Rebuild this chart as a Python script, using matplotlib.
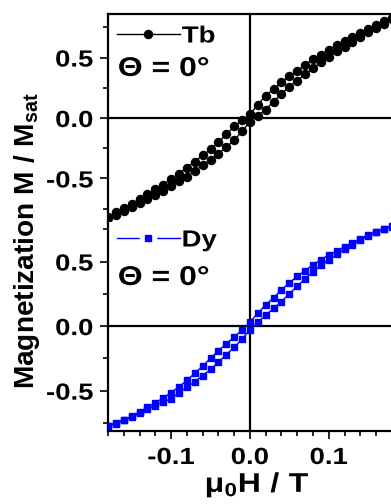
import matplotlib
matplotlib.use("Agg")
import matplotlib.pyplot as plt
from matplotlib.lines import Line2D
from matplotlib.legend_handler import HandlerTuple
from matplotlib.ticker import MultipleLocator, FixedLocator
from matplotlib.patheffects import AbstractPathEffect
from matplotlib.transforms import Affine2D

plt.rcParams['font.family'] = ['Liberation Sans', 'DejaVu Sans']
plt.rcParams['font.weight'] = 'bold'
plt.rcParams['axes.unicode_minus'] = False
plt.rcParams['mathtext.fontset'] = 'custom'
plt.rcParams['mathtext.rm'] = 'Liberation Sans'
plt.rcParams['mathtext.bf'] = 'Liberation Sans:bold'
plt.rcParams['mathtext.it'] = 'Liberation Sans:italic'

# Field values (T)
field = [-0.18, -0.17, -0.16, -0.15, -0.14, -0.13, -0.12, -0.11, -0.10, -0.09,
         -0.08, -0.07, -0.06, -0.05, -0.04, -0.03, -0.02, -0.01, 0.00, 0.01,
         0.02, 0.03, 0.04, 0.05, 0.06, 0.07, 0.08, 0.09, 0.10, 0.11,
         0.12, 0.13, 0.14, 0.15, 0.16, 0.17, 0.18]

# Tb: ascending (lower) and descending (upper) branches, M/Msat
tb_ascending = [-0.83, -0.80, -0.77, -0.74, -0.705, -0.67, -0.635, -0.60, -0.565, -0.525,
                -0.485, -0.44, -0.39, -0.345, -0.295, -0.24, -0.185, -0.11, -0.03, 0.02,
                0.07, 0.135, 0.20, 0.26, 0.31, 0.36, 0.41, 0.46, 0.505, 0.55,
                0.59, 0.63, 0.67, 0.71, 0.745, 0.78, 0.815]
tb_descending = [-0.815, -0.78, -0.745, -0.71, -0.67, -0.63, -0.59, -0.55, -0.505, -0.46,
                 -0.41, -0.36, -0.31, -0.26, -0.20, -0.135, -0.07, -0.02, 0.03, 0.11,
                 0.185, 0.24, 0.295, 0.345, 0.39, 0.44, 0.485, 0.525, 0.565, 0.60,
                 0.635, 0.67, 0.705, 0.74, 0.77, 0.80, 0.83]

# Dy: ascending (lower) and descending (upper) branches, M/Msat
dy_ascending = [-0.775, -0.755, -0.73, -0.705, -0.675, -0.645, -0.615, -0.585, -0.565, -0.515,
                -0.475, -0.43, -0.385, -0.335, -0.28, -0.22, -0.165, -0.10, -0.03, 0.03,
                0.085, 0.137, 0.19, 0.25, 0.31, 0.365, 0.42, 0.47, 0.515, 0.555,
                0.595, 0.63, 0.665, 0.70, 0.725, 0.75, 0.77]
dy_descending = [-0.77, -0.75, -0.725, -0.70, -0.665, -0.63, -0.595, -0.555, -0.515, -0.47,
                 -0.42, -0.365, -0.31, -0.25, -0.19, -0.137, -0.085, -0.03, 0.03, 0.10,
                 0.165, 0.22, 0.28, 0.335, 0.385, 0.43, 0.475, 0.515, 0.55, 0.58,
                 0.615, 0.645, 0.675, 0.705, 0.73, 0.755, 0.775]

x_major = [-0.1, 0.0, 0.1]
x_labels = ['-0.1', '0.0', '0.1']
y_major = [-0.5, 0.0, 0.5]
y_labels = ['-0.5', '0.0', '0.5']


class Stretch(AbstractPathEffect):
    """Widen text glyphs along the text direction (the reference font is wide)."""
    def __init__(self, sx, anchor='left'):
        super().__init__()
        self.sx = sx
        self.anchor = anchor

    def draw_path(self, renderer, gc, tpath, affine, rgbFace=None):
        ext = tpath.get_extents()
        if self.anchor == 'left':
            a = ext.x0
        elif self.anchor == 'right':
            a = ext.x1
        else:
            a = 0.5 * (ext.x0 + ext.x1)
        t = Affine2D().translate(-a, 0).scale(self.sx, 1.0).translate(a, 0)
        renderer.draw_path(gc, tpath, t + affine, rgbFace)


SX = 1.18
W, H = 391, 504
fig = plt.figure(figsize=(W / 100, H / 100), dpi=100)

left = 108 / W
width = (391.9 - 108) / W
ax_top = fig.add_axes([left, 1 - 222 / H, width, (222 - 14) / H])
ax_bot = fig.add_axes([left, 1 - 430.7 / H, width, (430.7 - 222) / H])

blue = '#0000ff'
tick_fs = 16.8

for ax in (ax_top, ax_bot):
    ax.set_xlim(-0.18, 0.18)
    ax.axhline(0, color='k', lw=1.6, zorder=1)
    ax.axvline(0, color='k', lw=1.6, zorder=1)
    ax.spines['right'].set_visible(False)
    for s in ax.spines.values():
        s.set_linewidth(1.6)
    ax.yaxis.set_major_locator(FixedLocator(y_major))
    ax.set_yticklabels(y_labels)
    ax.yaxis.set_minor_locator(MultipleLocator(0.25))
    ax.tick_params(axis='y', which='major', direction='out', length=6, width=1.2,
                   labelsize=tick_fs, pad=4.5)
    ax.tick_params(axis='y', which='minor', direction='out', length=3.5, width=1.2)
    for lab in ax.get_yticklabels():
        lab.set_fontweight('bold')
        lab.set_path_effects([Stretch(SX, 'right')])

# Top panel (Tb)
ax_top.set_ylim(-0.86, 0.86)
ax_top.spines['bottom'].set_visible(False)
ax_top.tick_params(axis='x', which='both', bottom=False, labelbottom=False)
ax_top.plot(field, tb_ascending, '-o', color='k', lw=1.0, ms=5.8, zorder=3)
ax_top.plot(field, tb_descending, '-o', color='k', lw=1.0, ms=5.8, zorder=3)

# Bottom panel (Dy)
ax_bot.set_ylim(-0.81, 0.806)
ax_bot.spines['top'].set_visible(False)
ax_bot.xaxis.set_major_locator(FixedLocator(x_major))
ax_bot.set_xticklabels(x_labels)
ax_bot.xaxis.set_minor_locator(MultipleLocator(0.02))
ax_bot.tick_params(axis='x', which='major', direction='out', length=6, width=1.2,
                   labelsize=tick_fs, pad=5)
ax_bot.tick_params(axis='x', which='minor', direction='out', length=3.5, width=1.2)
for lab in ax_bot.get_xticklabels():
    lab.set_fontweight('bold')
    lab.set_path_effects([Stretch(SX, 'center')])
ax_bot.plot(field, dy_ascending, '-s', color=blue, lw=1.0, ms=5.0, zorder=3)
ax_bot.plot(field, dy_descending, '-s', color=blue, lw=1.0, ms=5.0, zorder=3)

leg_fs = 16.8
# Legends
h_tb = Line2D([], [], color='k', lw=1.0, marker='o', ms=5.8)
lg1 = ax_top.legend([h_tb], ['Tb'], loc='center left',
                    bbox_to_anchor=((117 - 108) / 284, (222 - 36) / 208),
                    frameon=False, handlelength=2.7, handletextpad=0.08,
                    borderaxespad=0, borderpad=0,
                    prop={'weight': 'bold', 'size': leg_fs})
h_dy_line = Line2D([], [], color=blue, lw=1.0)
h_dy_gap = Line2D([], [], color='none', marker='s', ms=11, mfc='white', mec='white')
h_dy_mark = Line2D([], [], color='none', marker='s', ms=5.0, mfc=blue, mec=blue)
lg2 = ax_bot.legend([(h_dy_line, h_dy_gap, h_dy_mark)], ['Dy'], loc='center left',
                    bbox_to_anchor=((117 - 108) / 284, (430.7 - 240) / 208.7),
                    frameon=False,
                    handler_map={tuple: HandlerTuple(ndivide=1, pad=0)},
                    handlelength=2.7, handletextpad=0.08, borderaxespad=0, borderpad=0,
                    prop={'weight': 'bold', 'size': leg_fs})
for lg in (lg1, lg2):
    for t in lg.get_texts():
        t.set_path_effects([Stretch(SX, 'left')])

theta = r'$\mathrm{\Theta}$ = 0°'
for ax, yc in ((ax_top, (222 - 69) / 208), (ax_bot, (430.7 - 278) / 208.7)):
    ax.text((118 - 108) / 284, yc, theta, transform=ax.transAxes, fontsize=19.5,
            fontweight='bold', ha='left', va='center',
            path_effects=[Stretch(SX, 'left')])

fig.text(27 / W, 1 - 240.5 / H, r'$\mathbf{Magnetization\ M\ /\ M}_{\mathrm{sat}}$',
         rotation=90, ha='center', va='center', fontsize=20.2)
fig.text(205 / W, 1 - 492 / H, r'$\mathrm{μ}_{\mathrm{0}}\mathbf{H\ /\ T}$',
         ha='left', va='baseline', fontsize=19.5,
         path_effects=[Stretch(SX, 'left')])

fig.savefig('out.png', dpi=100)
